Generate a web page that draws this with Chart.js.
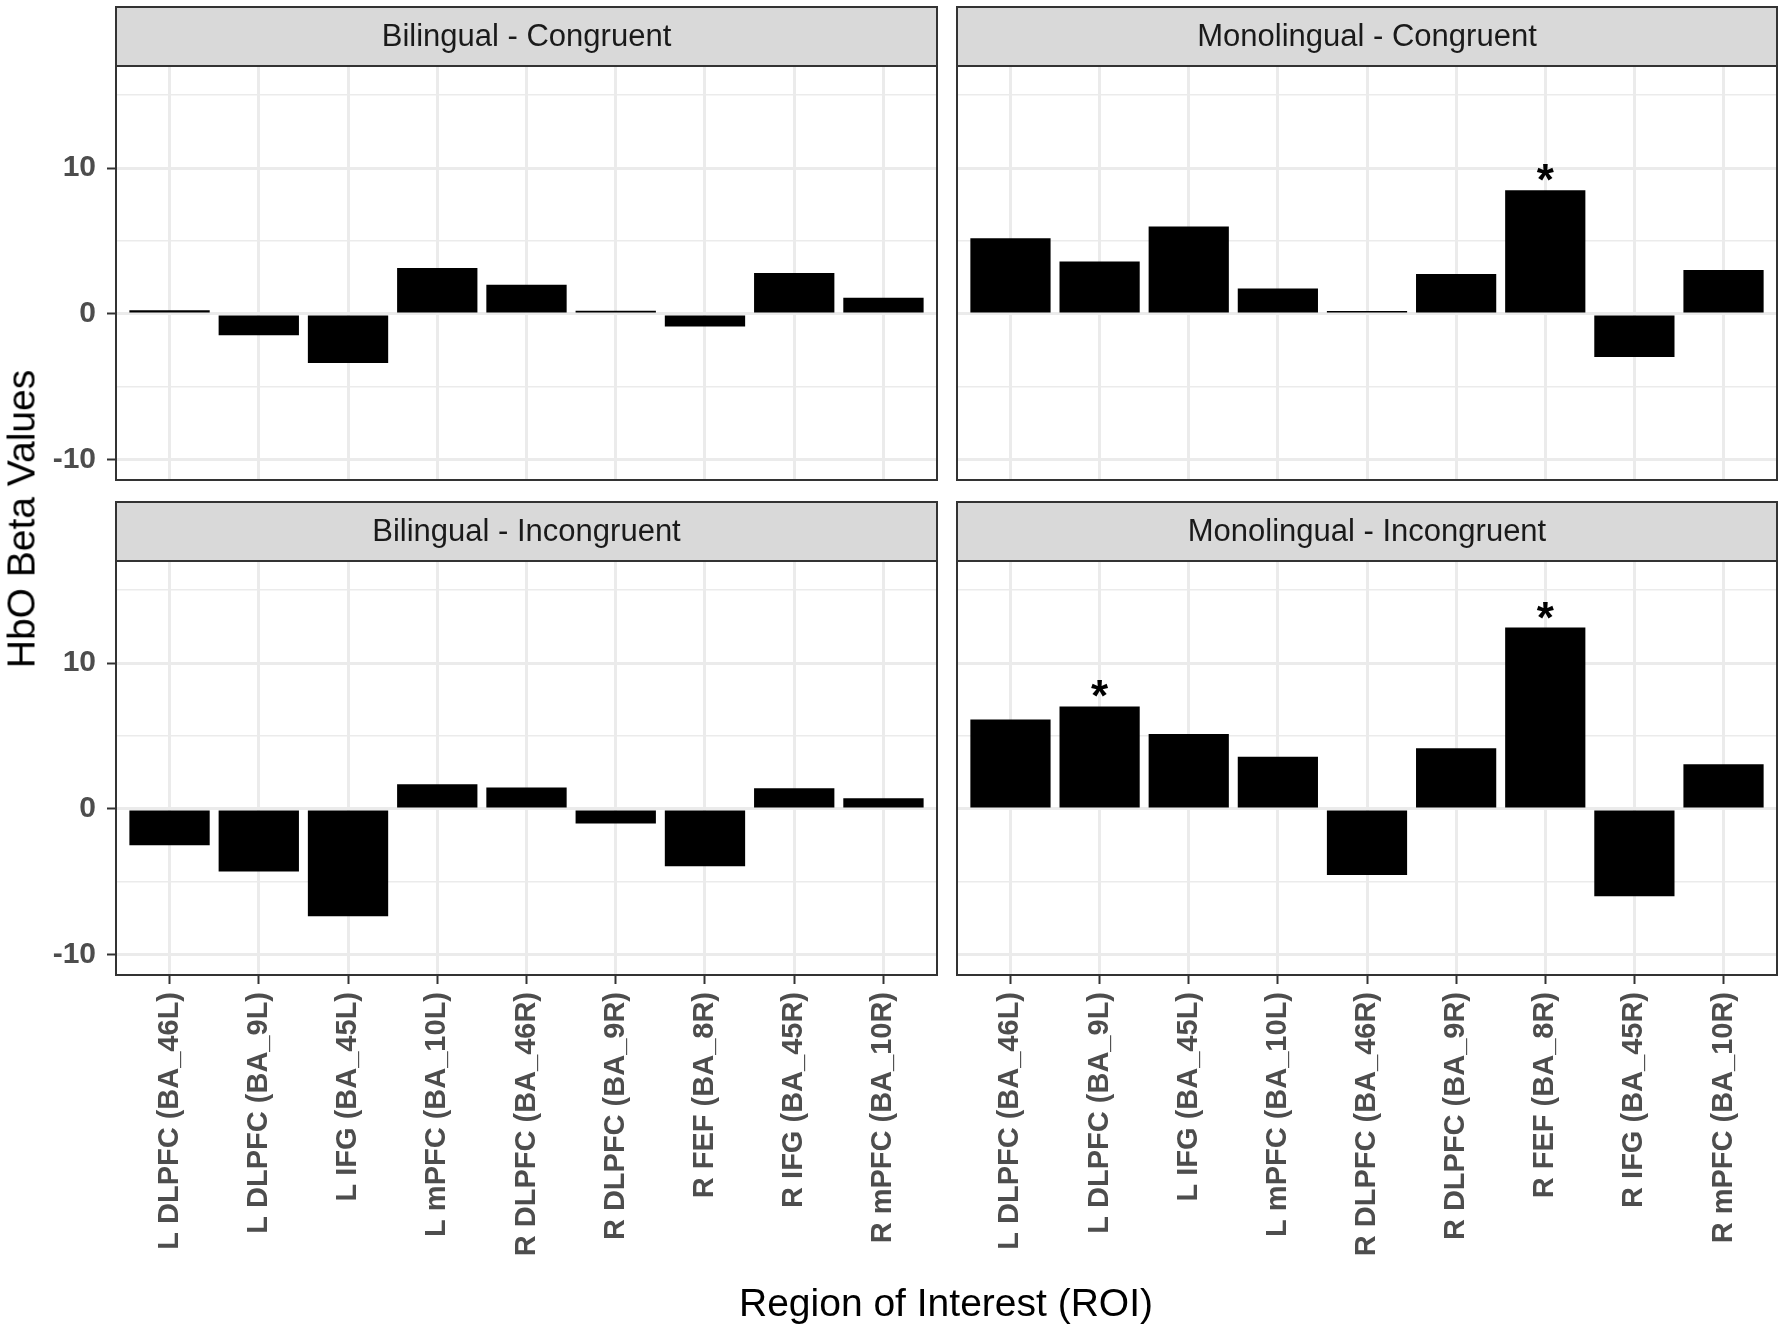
<!DOCTYPE html>
<html>
<head>
<meta charset="utf-8">
<script src="https://cdn.jsdelivr.net/npm/chart.js@4.4.1/dist/chart.umd.min.js"></script>
<style>
  body { margin: 0; background: #fff; }
  #wrap { position: relative; width: 1784px; height: 1330px; font-family: "Liberation Sans", Arial, Helvetica, sans-serif; }
  #wrap canvas { position: absolute; left: 0; top: 0; }
  .axis-title { position: absolute; font-size: 39px; color: #000; white-space: nowrap; line-height: 1; transform: translate(-50%, -50%); }
</style>
</head>
<body>
<div id="wrap">
  <canvas id="c0" width="1784" height="1330"></canvas>
  <canvas id="c1" width="1784" height="1330"></canvas>
  <canvas id="c2" width="1784" height="1330"></canvas>
  <canvas id="c3" width="1784" height="1330"></canvas>
  <div class="axis-title" style="left:946px; top:1302px;">Region of Interest (ROI)</div>
  <div class="axis-title" style="left:21px; top:519px; transform:translate(-50%,-50%) rotate(-90deg);">HbO Beta Values</div>
</div>
<script>
// ROI categories (x axis)
var roiLabels = ['L DLPFC (BA_46L)', 'L DLPFC (BA_9L)', 'L IFG (BA_45L)', 'L mPFC (BA_10L)',
  'R DLPFC (BA_46R)', 'R DLPFC (BA_9R)', 'R FEF (BA_8R)', 'R IFG (BA_45R)', 'R mPFC (BA_10R)'];

// HbO beta values per facet
var biCong     = [0.25, -1.46, -3.36, 3.16, 2.01, 0.23, -0.85, 2.81, 1.12];
var monoCong   = [5.19, 3.59, 6.00, 1.74, 0.20, 2.75, 8.49, -2.95, 3.02];
var biIncong   = [-2.49, -4.29, -7.35, 1.69, 1.48, -1.00, -3.93, 1.42, 0.73];
var monoIncong = [6.14, 7.03, 5.14, 3.58, -4.52, 4.16, 12.44, -5.98, 3.06];

// significant ROIs (index into roiLabels)
var sigMonoCong = [6];
var sigMonoIncong = [1, 6];

// y axis breaks
var yBreaks = [-10, -5, 0, 5, 10, 15];
var yLabelled = [-10, 0, 10];

var FONT = '"Liberation Sans", Arial, Helvetica, sans-serif';
var W = 1784, H = 1330;
var colX = [[116, 937], [957, 1777]];
var rowY = [[66, 480], [561, 975]];
var stripH = 59;
var yAxisW = 116, xAxisH = 300;

var panels = [
  { id: 'c0', title: 'Bilingual - Congruent', values: biCong, stars: [], col: 0, row: 0 },
  { id: 'c1', title: 'Monolingual - Congruent', values: monoCong, stars: sigMonoCong, col: 1, row: 0 },
  { id: 'c2', title: 'Bilingual - Incongruent', values: biIncong, stars: [], col: 0, row: 1 },
  { id: 'c3', title: 'Monolingual - Incongruent', values: monoIncong, stars: sigMonoIncong, col: 1, row: 1 }
];

function isMajor(v) { return yLabelled.indexOf(v) >= 0; }

// strip, panel border and significance stars
function makeFacet(p) {
  return {
    id: 'facet' + p.id,
    beforeDraw: function(chart) {
      var a = chart.chartArea, ctx = chart.ctx;
      ctx.save();
      ctx.fillStyle = '#D9D9D9';
      ctx.fillRect(a.left, a.top - stripH, a.right - a.left, stripH);
      ctx.restore();
    },
    afterDraw: function(chart) {
      var a = chart.chartArea, ctx = chart.ctx;
      ctx.save();
      ctx.strokeStyle = '#333333';
      ctx.lineWidth = 2;
      ctx.strokeRect(a.left, a.top - stripH, a.right - a.left, stripH);
      ctx.strokeRect(a.left, a.top, a.right - a.left, a.bottom - a.top);
      ctx.fillStyle = '#1A1A1A';
      ctx.font = '31px ' + FONT;
      ctx.textAlign = 'center';
      ctx.textBaseline = 'middle';
      ctx.fillText(p.title, (a.left + a.right) / 2, a.top - stripH / 2 + 1);

      var xs = chart.scales.x, ys = chart.scales.y;
      ctx.fillStyle = '#000';
      ctx.font = 'bold 44px ' + FONT;
      ctx.textBaseline = 'alphabetic';
      var m = ctx.measureText('*');
      p.stars.forEach(function(i) {
        var top = ys.getPixelForValue(Math.max(p.values[i], 0));
        ctx.fillText('*', xs.getPixelForValue(i), top - 9 - m.actualBoundingBoxDescent);
      });
      ctx.restore();
    }
  };
}

panels.forEach(function(p) {
  var left = colX[p.col][0], right = colX[p.col][1];
  var top = rowY[p.row][0], bottom = rowY[p.row][1];
  var showX = p.row === 1, showY = p.col === 0;

  new Chart(document.getElementById(p.id), {
    type: 'bar',
    data: {
      datasets: [{
        data: p.values.map(function(v, i) { return { x: i, y: v }; }),
        backgroundColor: '#000000',
        borderWidth: 0,
        categoryPercentage: 0.9,
        barPercentage: 1.0
      }]
    },
    options: {
      responsive: false,
      animation: false,
      devicePixelRatio: 1,
      layout: {
        padding: {
          left: left - (showY ? yAxisW : 0),
          right: W - right,
          top: top,
          bottom: H - bottom - (showX ? xAxisH : 0)
        }
      },
      plugins: { legend: { display: false }, tooltip: { enabled: false } },
      scales: {
        x: {
          type: 'linear',
          min: -0.6,
          max: 8.6,
          offset: false,
          afterBuildTicks: function(s) { s.ticks = roiLabels.map(function(l, i) { return { value: i }; }); },
          afterFit: function(s) { s.height = showX ? xAxisH : 0; },
          grid: { offset: false, color: '#EBEBEB', lineWidth: 3, drawTicks: showX, tickLength: 9, tickColor: '#333333', tickWidth: 2 },
          border: { display: false },
          ticks: {
            display: showX,
            autoSkip: false,
            minRotation: 90,
            maxRotation: 90,
            padding: 8,
            color: '#4D4D4D',
            font: { family: FONT, size: 29, weight: 'bold' },
            callback: function(v) { return roiLabels[v]; }
          }
        },
        y: {
          min: -11.38,
          max: 17,
          afterBuildTicks: function(s) { s.ticks = yBreaks.map(function(v) { return { value: v }; }); },
          afterFit: function(s) { s.width = showY ? yAxisW : 0; },
          grid: {
            color: '#EBEBEB',
            lineWidth: function(c) { return c.tick && isMajor(c.tick.value) ? 3 : 1.6; },
            drawTicks: showY,
            tickLength: 9,
            tickWidth: 2,
            tickColor: function(c) { return c.tick && isMajor(c.tick.value) ? '#333333' : 'rgba(0,0,0,0)'; }
          },
          border: { display: false },
          ticks: {
            display: showY,
            padding: 11,
            color: '#4D4D4D',
            font: { family: FONT, size: 30, weight: 'bold' },
            callback: function(v) { return isMajor(v) ? String(v) : ''; }
          }
        }
      }
    },
    plugins: [makeFacet(p)]
  });
});
</script>
</body>
</html>
